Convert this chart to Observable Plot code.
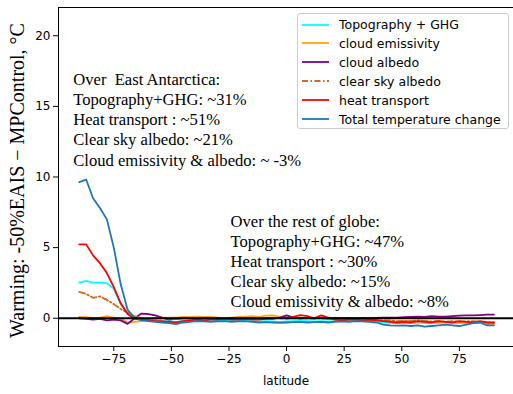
<!DOCTYPE html>
<html>
<head>
<meta charset="utf-8">
<script src="https://cdn.jsdelivr.net/npm/d3@7"></script>
<script src="https://cdn.jsdelivr.net/npm/@observablehq/plot@0.6"></script>
<style>
  body { margin: 0; background: white; }
  #wrap { position: relative; width: 513px; height: 394px; }
  #legend { position: absolute; left: 297px; top: 13px; width: 212px; height: 116px;
    border: 1px solid #cccccc; border-radius: 3px; background: rgba(255,255,255,0.8);
    font-family: "DejaVu Sans"; font-size: 12.5px; box-sizing: border-box; }
  .row { position: absolute; left: 0; height: 19px; display: flex; align-items: center; white-space: nowrap; }
  .row svg { margin-left: 4px; margin-right: 10px; }
</style>
</head>
<body>
<div id="wrap"></div>
<script>
const lat = [-90,-87,-84,-81,-78,-75,-72,-69,-66,-63,-60,-57,-54,-51,-48,-45,-42,-39,-36,-33,-30,-27,-24,-21,-18,-15,-12,-9,-6,-3,0,3,6,9,12,15,18,21,24,27,30,33,36,39,42,45,48,51,54,57,60,63,66,69,72,75,78,81,84,87,90];

const topoGHG = [2.52, 2.64, 2.52, 2.52, 2.48, 2.1, 1.0, 0.35, 0.1, -0.05,
 -0.1, -0.15, -0.2, -0.2, -0.25, -0.2, -0.18, -0.15, -0.17, -0.2,
 -0.18, -0.15, -0.18, -0.2, -0.17, -0.2, -0.22, -0.2, -0.22, -0.25,
 -0.22, -0.2, -0.18, -0.2, -0.22, -0.2, -0.22, -0.2, -0.18, -0.2,
 -0.17, -0.2, -0.22, -0.25, -0.3, -0.32, -0.35, -0.32, -0.35, -0.3,
 -0.35, -0.32, -0.3, -0.28, -0.32, -0.35, -0.3, -0.28, -0.25, -0.3, -0.35];

const cloudEmis = [0.1, 0.08, 0.0, 0.05, 0.15, 0.05, 0.0, -0.3, -0.25, -0.2,
 -0.1, 0.0, 0.05, 0.05, 0.05, 0.1, 0.1, 0.12, 0.1, 0.1,
 0.05, 0.0, 0.05, 0.1, 0.12, 0.15, 0.1, 0.18, 0.2, 0.1,
 0.05, 0.0, -0.05, 0.0, 0.05, 0.0, -0.05, -0.1, -0.1, -0.05,
 -0.1, -0.12, -0.15, -0.15, -0.2, -0.2, -0.25, -0.2, -0.22, -0.25,
 -0.2, -0.25, -0.3, -0.25, -0.3, -0.28, -0.3, -0.35, -0.3, -0.4, -0.4];

const cloudAlb = [0.0, -0.05, -0.1, -0.05, -0.15, -0.1, -0.15, -0.4, 0.0, 0.33,
 0.3, 0.2, 0.05, -0.1, -0.05, 0.0, 0.0, -0.02, 0.0, 0.02,
 0.0, -0.02, 0.0, 0.02, 0.0, 0.0, -0.02, 0.0, 0.02, 0.05,
 0.2, 0.05, 0.0, 0.02, 0.0, 0.05, 0.0, 0.02, 0.0, 0.03,
 0.0, 0.02, 0.0, 0.03, 0.05, 0.05, 0.05, 0.08, 0.1, 0.12,
 0.1, 0.15, 0.12, 0.12, 0.15, 0.18, 0.2, 0.2, 0.22, 0.25, 0.25];

const clearSky = [1.86, 1.72, 1.45, 1.55, 1.3, 1.0, 0.65, 0.4, 0.15, 0.0,
 -0.05, -0.05, 0.0, -0.03, -0.05, 0.0, 0.02, 0.0, -0.02, 0.0,
 0.02, 0.0, -0.02, 0.0, 0.02, 0.0, -0.02, 0.0, 0.03, 0.0,
 -0.02, 0.0, 0.02, 0.0, -0.02, 0.0, -0.03, -0.05, -0.05, -0.08,
 -0.1, -0.1, -0.12, -0.1, -0.15, -0.15, -0.2, -0.18, -0.2, -0.15,
 -0.2, -0.22, -0.2, -0.25, -0.2, -0.25, -0.22, -0.2, -0.25, -0.3, -0.3];

const heatTransport = [5.23, 5.23, 4.45, 3.9, 3.2, 2.2, 1.06, 0.3, -0.05, -0.1,
 -0.15, -0.2, -0.2, -0.25, -0.3, -0.2, -0.15, -0.1, -0.15, -0.1,
 -0.1, -0.05, -0.1, -0.1, -0.05, -0.1, -0.1, -0.05, -0.05, 0.05,
 0.0, 0.1, 0.22, 0.15, 0.0, 0.2, 0.05, -0.1, -0.15, -0.1,
 -0.1, -0.15, -0.1, -0.15, -0.2, -0.25, -0.3, -0.25, -0.3, -0.2,
 -0.25, -0.3, -0.2, -0.25, -0.3, -0.2, -0.25, -0.3, -0.2, -0.3, -0.3];

const totalChange = [9.64, 9.82, 8.5, 7.8, 7.0, 5.0, 2.4, 0.6, 0.05, -0.15,
 -0.2, -0.25, -0.3, -0.35, -0.42, -0.3, -0.25, -0.2, -0.22, -0.25,
 -0.22, -0.2, -0.25, -0.22, -0.2, -0.25, -0.3, -0.28, -0.3, -0.32,
 -0.3, -0.28, -0.25, -0.3, -0.28, -0.25, -0.3, -0.25, -0.22, -0.25,
 -0.2, -0.22, -0.25, -0.3, -0.45, -0.5, -0.52, -0.5, -0.55, -0.5,
 -0.6, -0.55, -0.5, -0.45, -0.5, -0.55, -0.45, -0.35, -0.3, -0.5, -0.5];

const seriesNames = ["Topography + GHG", "cloud emissivity", "cloud albedo", "clear sky albedo", "heat transport", "Total temperature change"];
const seriesValues = [topoGHG, cloudEmis, cloudAlb, clearSky, heatTransport, totalChange];
const seriesColors = ["#00ffff", "#ffa500", "#800080", "#d2691e", "#ff0000", "#1f77b4"];
const seriesDash = [null, null, null, "6,2.5,1.5,2.5", null, null];

const xTicks = [-75, -50, -25, 0, 25, 50, 75];
const yTicks = [0, 5, 10, 15, 20];

const yTitle = "Warming: -50%EAIS \u2212 MPControl, \u00b0C";
const xTitle = "latitude";

const notes = [
  {x: -92.6, y: 10.81, text: "Over\u00a0 East Antarctica:\nTopography+GHG: ~31%\nHeat transport : ~51%\nClear sky albedo: ~21%\nCloud emissivity & albedo: ~ -3%"},
  {x: -24.3, y: 0.78, text: "Over the rest of globe:\nTopography+GHG: ~47%\nHeat transport : ~30%\nClear sky albedo: ~15%\nCloud emissivity & albedo: ~8%"}
];

const lineMarks = seriesNames.map((name, k) => {
  const rows = lat.map((la, i) => ({lat: la, v: seriesValues[k][i]}));
  return Plot.line(rows, {x: "lat", y: "v", stroke: seriesColors[k], strokeWidth: 1.8,
    strokeDasharray: seriesDash[k] || undefined, strokeLinejoin: "round"});
});

const chart = Plot.plot({
  width: 513, height: 394,
  marginLeft: 58, marginRight: 0, marginTop: 7, marginBottom: 48,
  x: {domain: [-99, 98.5]},
  y: {domain: [-2, 22]},
  style: {fontFamily: "DejaVu Sans", fontSize: "12px", color: "black", background: "white"},
  marks: [
    ...lineMarks,
    Plot.ruleY([0], {stroke: "black", strokeWidth: 1.8}),
    Plot.frame({stroke: "black", strokeWidth: 1}),
    Plot.axisX({ticks: xTicks, tickSize: 5, tickPadding: 3, label: xTitle, labelAnchor: "center", labelArrow: false, labelOffset: 38}),
    Plot.axisY({ticks: yTicks, tickSize: 5, tickPadding: 3, label: null}),
    Plot.text([yTitle], {frameAnchor: "left", rotate: -90, dx: -41, dy: 3.5, text: d => d,
      fontFamily: "Liberation Serif", fontSize: 20, textAnchor: "middle", lineAnchor: "middle"}),
    Plot.text(notes, {x: "x", y: "y", text: "text", textAnchor: "start", lineAnchor: "bottom",
      lineHeight: 1.21, fontFamily: "Liberation Serif", fontSize: 16.6, fill: "black"})
  ]
});

const wrap = document.getElementById("wrap");
wrap.appendChild(chart);

const legend = document.createElement("div");
legend.id = "legend";
seriesNames.forEach((name, k) => {
  const row = document.createElement("div");
  row.className = "row";
  row.style.top = (1 + k * 18.9) + "px";
  const dash = seriesDash[k] ? ` stroke-dasharray="${seriesDash[k]}"` : "";
  row.innerHTML = `<svg width="27" height="10"><line x1="0" x2="27" y1="5" y2="5" stroke="${seriesColors[k]}" stroke-width="1.8"${dash}/></svg><span>${name}</span>`;
  legend.appendChild(row);
});
wrap.appendChild(legend);
</script>
</body>
</html>
